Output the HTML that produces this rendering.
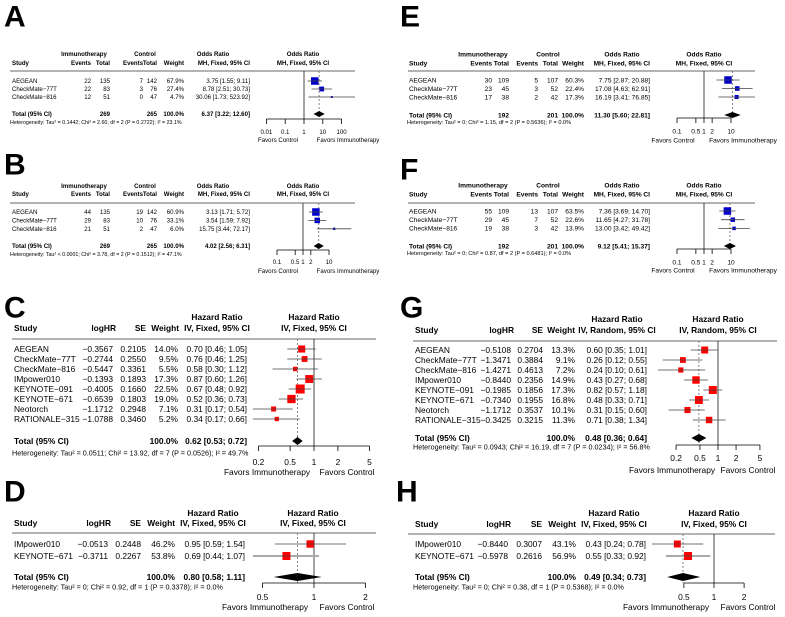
<!DOCTYPE html>
<html><head><meta charset="utf-8">
<style>
html,body{margin:0;padding:0;background:#fff;}
svg{display:block;font-family:"Liberation Sans",Arial,sans-serif;}
text{white-space:pre;}
</style></head>
<body>
<svg id="fig" width="785" height="617" viewBox="0 0 785 617" xmlns="http://www.w3.org/2000/svg">
<rect x="0" y="0" width="785" height="617" fill="#fff"/>
</svg>
<script>
// ---------- DATA ----------
const orStudies = ['AEGEAN','CheckMate\u221277T','CheckMate\u2212816'];
const hrStudies8 = ['AEGEAN','CheckMate\u221277T','CheckMate\u2212816','IMpower010','KEYNOTE\u2212091','KEYNOTE\u2212671','Neotorch','RATIONALE\u2212315'];
const hrStudies2 = ['IMpower010','KEYNOTE\u2212671'];

const aEv1=[22,22,12]; const aN1=[135,83,51]; const aEv2=[7,3,0]; const aN2=[142,76,47];
const aWt=[67.9,27.4,4.7]; const aEst=[3.75,8.78,30.06]; const aLo=[1.55,2.51,1.73]; const aHi=[9.11,30.73,523.92];
const aTotal=[6.37,3.22,12.60]; const aTotN=[269,265];
const aHet='Heterogeneity: Tau\u00b2 = 0.1442; Chi\u00b2 = 2.60, df = 2 (P = 0.2722); I\u00b2 = 23.1%';
const aTicks=[0.01,0.1,1,10,100]; const aTickLabels=['0.01','0.1','1','10','100'];

const bEv1=[44,29,21]; const bN1=[135,83,51]; const bEv2=[19,10,2]; const bN2=[142,76,47];
const bWt=[60.9,33.1,6.0]; const bEst=[3.13,3.54,15.75]; const bLo=[1.71,1.59,3.44]; const bHi=[5.72,7.92,72.17];
const bTotal=[4.02,2.56,6.31]; const bTotN=[269,265];
const bHet='Heterogeneity: Tau\u00b2 < 0.0001; Chi\u00b2 = 3.78, df = 2 (P = 0.1512); I\u00b2 = 47.1%';
const bTicks=[0.1,0.5,1,2,10]; const bTickLabels=['0.1','0.5','1','2','10'];

const eEv1=[30,23,17]; const eN1=[109,45,38]; const eEv2=[5,3,2]; const eN2=[107,52,42];
const eWt=[60.3,22.4,17.3]; const eEst=[7.75,17.08,16.19]; const eLo=[2.87,4.63,3.41]; const eHi=[20.88,62.91,76.85];
const eTotal=[11.30,5.60,22.81]; const eTotN=[192,201];
const eHet='Heterogeneity: Tau\u00b2 = 0; Chi\u00b2 = 1.15, df = 2 (P = 0.5636); I\u00b2 = 0.0%';
const eTicks=[0.1,0.5,1,2,10]; const eTickLabels=['0.1','0.5','1','2','10'];

const fEv1=[55,29,19]; const fN1=[109,45,38]; const fEv2=[13,7,3]; const fN2=[107,52,42];
const fWt=[63.5,22.6,13.9]; const fEst=[7.36,11.65,13.00]; const fLo=[3.69,4.27,3.42]; const fHi=[14.70,31.78,49.42];
const fTotal=[9.12,5.41,15.37]; const fTotN=[192,201];
const fHet='Heterogeneity: Tau\u00b2 = 0; Chi\u00b2 = 0.87, df = 2 (P = 0.6481); I\u00b2 = 0.0%';
const fTicks=[0.1,0.5,1,2,10]; const fTickLabels=['0.1','0.5','1','2','10'];

const cLog=[-0.3567,-0.2744,-0.5447,-0.1393,-0.4005,-0.6539,-1.1712,-1.0788];
const cSe=[0.2105,0.2550,0.3361,0.1893,0.1660,0.1803,0.2948,0.3460];
const cWt=[14.0,9.5,5.5,17.3,22.5,19.0,7.1,5.2];
const cEst=[0.70,0.76,0.58,0.87,0.67,0.52,0.31,0.34];
const cLo=[0.46,0.46,0.30,0.60,0.48,0.36,0.17,0.17];
const cHi=[1.05,1.25,1.12,1.26,0.92,0.73,0.54,0.66];
const cTotal=[0.62,0.53,0.72];
const cHet='Heterogeneity: Tau\u00b2 = 0.0511; Chi\u00b2 = 13.92, df = 7 (P = 0.0526); I\u00b2 = 49.7%';
const cTicks=[0.2,0.5,1,2,5]; const cTickLabels=['0.2','0.5','1','2','5'];

const gLog=[-0.5108,-1.3471,-1.4271,-0.8440,-0.1985,-0.7340,-1.1712,-0.3425];
const gSe=[0.2704,0.3884,0.4613,0.2356,0.1856,0.1955,0.3537,0.3215];
const gWt=[13.3,9.1,7.2,14.9,17.3,16.8,10.1,11.3];
const gEst=[0.60,0.26,0.24,0.43,0.82,0.48,0.31,0.71];
const gLo=[0.35,0.12,0.10,0.27,0.57,0.33,0.15,0.38];
const gHi=[1.01,0.55,0.61,0.68,1.18,0.71,0.60,1.34];
const gTotal=[0.48,0.36,0.64];
const gHet='Heterogeneity: Tau\u00b2 = 0.0943; Chi\u00b2 = 16.19, df = 7 (P = 0.0234); I\u00b2 = 56.8%';
const gTicks=[0.2,0.5,1,2,5]; const gTickLabels=['0.2','0.5','1','2','5'];

const dLog=[-0.0513,-0.3711]; const dSe=[0.2448,0.2267]; const dWt=[46.2,53.8];
const dEst=[0.95,0.69]; const dLo=[0.59,0.44]; const dHi=[1.54,1.07];
const dTotal=[0.80,0.58,1.11];
const dHet='Heterogeneity: Tau\u00b2 = 0; Chi\u00b2 = 0.92, df = 1 (P = 0.3378); I\u00b2 = 0.0%';
const dTicks=[0.5,1,2]; const dTickLabels=['0.5','1','2'];

const hLog=[-0.8440,-0.5978]; const hSe=[0.3007,0.2616]; const hWt=[43.1,56.9];
const hEst=[0.43,0.55]; const hLo=[0.24,0.33]; const hHi=[0.78,0.92];
const hTotal=[0.49,0.34,0.73];
const hHet='Heterogeneity: Tau\u00b2 = 0; Chi\u00b2 = 0.38, df = 1 (P = 0.5368); I\u00b2 = 0.0%';
const hTicks=[0.5,1,2]; const hTickLabels=['0.5','1','2'];

// ---------- RENDER ----------
const NS='http://www.w3.org/2000/svg';
const svg=document.getElementById('fig');
function mk(tag,attrs,parent){
  const el=document.createElementNS(NS,tag);
  for(const k in attrs) el.setAttribute(k,attrs[k]);
  (parent||svg).appendChild(el);
  return el;
}
function txt(g,x,cy,s,fs,anchor,bold,name){
  const el=mk('text',{x:x,y:(cy+fs*0.35).toFixed(2),'font-size':fs,'text-anchor':anchor||'start','font-weight':bold?'bold':'normal',fill:'#000'},g);
  el.textContent=s;
  
  
  return el;
}
function num(v){return (v<0?'\u2212':'')+Math.abs(v).toFixed(4);}
function ci(e,l,h){return e.toFixed(2)+' ['+l.toFixed(2)+'; '+h.toFixed(2)+']';}

function drawPanel(c,d){
  const g=mk('g',{});
  
  
  const X=v=>c.refX+Math.log10(v)*c.ppd;
  txt(g,c.lx,c.ly-11,c.label,30,'start',true,'panel-label');
  c.grp.forEach(h=>{txt(g,h[1],c.h1y,h[0],c.fs,'middle',true,'group-header');});
  txt(g,c.studyX,c.h2y,'Study',c.fs,'start',true,'study-header');
  c.h2.forEach(h=>{txt(g,h[1],c.h2y,h[0],c.fs,h[2],true,'column-header');});
  txt(g,c.plotHdrX,c.h1y,c.plotH1,c.fs,'middle',true,'plot-header');
  txt(g,c.plotHdrX,c.h2y,c.plotH2,c.fs,'middle',true,'plot-subheader');
  const sep=mk('line',{x1:c.sepX1,x2:c.sepX2,y1:c.sepY,y2:c.sepY,stroke:'#9a9a9a','stroke-width':1.5},g);
  
  
  const rl=mk('line',{x1:X(1),x2:X(1),y1:c.sepY,y2:c.axisY,stroke:'#333','stroke-width':0.9},g);
  
  
  const dl=mk('line',{x1:X(d.total[0]),x2:X(d.total[0]),y1:c.sepY,y2:c.axisY,stroke:'#777','stroke-width':0.9,'stroke-dasharray':'2,2'},g);
  
  
  const wmax=Math.max(...d.wt);
  d.studies.forEach((s,i)=>{
    const y=c.row0+i*c.step;
    txt(g,c.studyX,y,s,c.fs,'start',false,'study-name');
    d.cells[i].forEach((v,j)=>{txt(g,c.cols[j],y,v,c.fs,'end',false,'study-value');});
    const grey=c.greyRows && c.greyRows.indexOf(i)>=0;
    const x1=Math.max(X(d.lo[i]),c.sepX1),x2=Math.min(X(d.hi[i]),c.sepX2);
    if(grey){
      const gl=mk('line',{x1:x1,x2:x2,y1:y,y2:y,stroke:'#aaa','stroke-width':2},g);
      
      
    }
    const sz=c.maxSq*Math.sqrt(d.wt[i]/wmax);
    const sq=mk('rect',{x:X(d.est[i])-sz/2,y:y-sz/2,width:sz,height:sz,fill:c.color},g);
    
    
    const cl=mk('line',{x1:grey?X(d.est[i])-sz/2:x1,x2:grey?X(d.est[i])+sz/2:x2,y1:y,y2:y,stroke:'#444','stroke-width':0.8},g);
    
    
  });
  txt(g,c.studyX,c.totY,'Total (95% CI)',c.fs,'start',true,'total-label');
  d.totCells.forEach(tc=>{txt(g,c.cols[tc[0]],c.totY,tc[1],c.fs,'end',true,'total-value');});
  const xl=X(d.total[1]),xc=X(d.total[0]),xh=X(d.total[2]),y=c.totY;
  const dm=mk('polygon',{points:`${xl},${y} ${xc},${y-c.dh} ${xh},${y} ${xc},${y+c.dh}`,fill:'#000'},g);
  
  
  txt(g,c.studyX-2,c.hetY,d.het,c.hfs,'start',false,'heterogeneity-text');
  const ax=mk('line',{x1:X(d.ticks[0]),x2:X(d.ticks[d.ticks.length-1]),y1:c.axisY,y2:c.axisY,stroke:'#000','stroke-width':0.8},g);
  
  
  d.ticks.forEach((t,i)=>{
    const tk=mk('line',{x1:X(t),x2:X(t),y1:c.axisY,y2:c.axisY+c.tl,stroke:'#000','stroke-width':0.8},g);
    
    
    txt(g,X(t),c.tickY,d.tickLabels[i],c.fs,'middle',false,'x-tick-label');
  });
  txt(g,c.favL[1],c.favY,c.favL[0],c.fs,'middle',false,'favors-left-label');
  txt(g,c.favR[1],c.favY,c.favR[0],c.fs,'middle',false,'favors-right-label');
}

function orData(ev1,n1,ev2,n2,wt,est,lo,hi,total,totN,het,ticks,tl){
  return {studies:orStudies,wt:wt,est:est,lo:lo,hi:hi,total:total,het:het,ticks:ticks,tickLabels:tl,
    cells:orStudies.map((s,i)=>[String(ev1[i]),String(n1[i]),String(ev2[i]),String(n2[i]),wt[i].toFixed(1)+'%',ci(est[i],lo[i],hi[i])]),
    totCells:[[1,String(totN[0])],[3,String(totN[1])],[4,'100.0%'],[5,ci(total[0],total[1],total[2])]]};
}
function hrData(studies,lg,se,wt,est,lo,hi,total,het,ticks,tl){
  return {studies:studies,wt:wt,est:est,lo:lo,hi:hi,total:total,het:het,ticks:ticks,tickLabels:tl,
    cells:studies.map((s,i)=>[num(lg[i]),se[i].toFixed(4),wt[i].toFixed(1)+'%',ci(est[i],lo[i],hi[i])]),
    totCells:[[2,'100.0%'],[3,ci(total[0],total[1],total[2])]]};
}
function orCfg(label,dx,dy,fs,hfs,cols,grp,plotX,refX,ppd,ys,favL,favR,sepX){
  return {label:label,lx:4+dx,ly:dy,fs:fs,hfs:hfs,studyX:12+dx+(dx?1:0),cols:cols,
    grp:[['Immunotherapy',grp[0]],['Control',grp[1]],['Odds Ratio',grp[2]]],
    h2:[['Events',cols[0],'end'],['Total',cols[1],'end'],['Events',cols[2],'end'],['Total',cols[3],'end'],['Weight',cols[4],'end'],['MH, Fixed, 95% CI',cols[5],'end']],
    plotH1:'Odds Ratio',plotH2:'MH, Fixed, 95% CI',plotHdrX:plotX,refX:refX,ppd:ppd,
    h1y:ys[0],h2y:ys[1],sepY:ys[2],row0:ys[3],step:ys[4],totY:ys[5],hetY:ys[6],axisY:ys[7],tickY:ys[8],favY:ys[9],
    sepX1:sepX[0],sepX2:sepX[1],favL:['Favors Control',favL],favR:['Favors Immunotherapy',favR],color:'#0000cc',maxSq:7.5,dh:3,tl:5};
}
function hrCfg(label,lx,ly,studyX,cols,wHdr,hrX,sub,plotX,refX,ppd,ys,favL,favR,sepX,maxSq,greyRows){
  return {label:label,lx:lx,ly:ly,fs:8.4,hfs:7.2,studyX:studyX,cols:cols,
    grp:[['Hazard Ratio',hrX]],
    h2:[['logHR',cols[0]+3,'end'],['SE',cols[1],'end'],['Weight',wHdr,'end'],[sub,hrX,'middle']],
    plotH1:'Hazard Ratio',plotH2:sub,plotHdrX:plotX,refX:refX,ppd:ppd,
    h1y:ys[0],h2y:ys[1],sepY:ys[2],row0:ys[3],step:ys[4],totY:ys[5],hetY:ys[6],axisY:ys[7],tickY:ys[8],favY:ys[9],
    sepX1:sepX[0],sepX2:sepX[1],favL:['Favors Immunotherapy',favL],favR:['Favors Control',favR],color:'#ff0000',maxSq:maxSq,dh:4,tl:5,greyRows:greyRows||[]};
}

drawPanel(orCfg('A',0,27,6.1,5.3,[91,110,143,157,184,250],[84,145,213],303,304,18.8,[54,63,71,81,8,114,122,119,132,140],278,348,[10,355]),
  orData(aEv1,aN1,aEv2,aN2,aWt,aEst,aLo,aHi,aTotal,aTotN,aHet,aTicks,aTickLabels));
drawPanel(orCfg('B',0,175,6.1,5.3,[91,110,143,157,184,250],[84,145,213],303,303,26,[186,194,203,212,8.4,246,254,250,262,271],278,348,[10,355]),
  orData(bEv1,bN1,bEv2,bN2,bWt,bEst,bLo,bHi,bTotal,bTotN,bHet,bTicks,bTickLabels));
drawPanel(orCfg('E',396,27,6.6,5.6,[492,509,538,558,584,650],[483,548,622],704,704,27,[54,63,71,80,8.5,115,122,118,131,140],673,743,[408,755]),
  orData(eEv1,eN1,eEv2,eN2,eWt,eEst,eLo,eHi,eTotal,eTotN,eHet,eTicks,eTickLabels));
drawPanel(orCfg('F',396,180,6.6,5.6,[492,509,538,558,584,650],[483,548,622],704,704,27,[185,194,203,211,8.7,246,253,249,262,270],673,743,[408,755]),
  orData(fEv1,fN1,fEv2,fN2,fWt,fEst,fLo,fHi,fTotal,fTotN,fHet,fTicks,fTickLabels));
drawPanel(hrCfg('C',4,318,14,[113,146,178,247],179,217,'IV, Fixed, 95% CI',314,314,79.4,[317,328,339,349,10,441,453,446,462,472],267,347,[12,376],9),
  hrData(hrStudies8,cLog,cSe,cWt,cEst,cLo,cHi,cTotal,cHet,cTicks,cTickLabels));
drawPanel(hrCfg('G',400,318,415,[511,543,575,647],575,617,'IV, Random, 95% CI',718,718,60,[319,330,341,350,10,438,447,445,458,470],672,748,[413,777],8),
  hrData(hrStudies8,gLog,gSe,gWt,gEst,gLo,gHi,gTotal,gHet,gTicks,gTickLabels));
drawPanel(hrCfg('D',4,502,14,[108,141,175,245],175,213,'IV, Fixed, 95% CI',313,314,171,[513,523,533,544,12,577,587,583,597,607],265,347,[12,376],8,[1]),
  hrData(hrStudies2,dLog,dSe,dWt,dEst,dLo,dHi,dTotal,dHet,dTicks,dTickLabels));
drawPanel(hrCfg('H',396,502,415,[508,542,576,646],576,614,'IV, Fixed, 95% CI',714,714,100,[513,524,534,544,12,577,587,583,597,607],666,748,[408,775],8,[1]),
  hrData(hrStudies2,hLog,hSe,hWt,hEst,hLo,hHi,hTotal,hHet,hTicks,hTickLabels));
</script>
</body></html>
